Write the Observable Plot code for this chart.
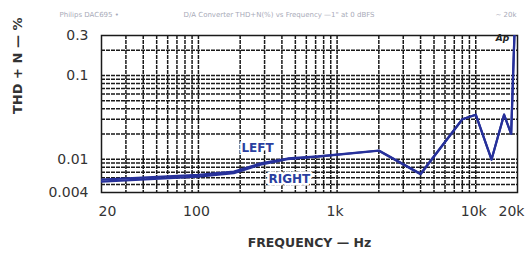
<!DOCTYPE html>
<html>
<head>
<meta charset="utf-8">
<script src="https://cdn.jsdelivr.net/npm/d3@7"></script>
<script src="https://cdn.jsdelivr.net/npm/@observablehq/plot@0.6"></script>
<style>
  html, body { margin: 0; padding: 0; background: #fff; }
  #chart { position: relative; width: 527px; height: 258px; }
  #chart svg { position: absolute; left: 0; top: 0; }
</style>
</head>
<body>
<div id="chart"></div>
<script>
// ---- data ----
const freqs = [20, 100, 180, 280, 440, 730, 2000, 4000, 8000, 10000, 13000, 16000, 18000, 19000];
const leftTHD  = [0.0057, 0.0065, 0.0071, 0.0089, 0.0102, 0.0108, 0.0127, 0.0067, 0.030, 0.034, 0.0099, 0.034, 0.020, 0.30];
const rightTHD = [0.0054, 0.0062, 0.0068, 0.0086, 0.0100, 0.0107, 0.0126, 0.0066, 0.030, 0.034, 0.0099, 0.034, 0.020, 0.30];

const xTicks = [20, 100, 1000, 10000, 20000];
const xTickLabels = ["20", "100", "1k", "10k", "20k"];
const yTicks = [0.3, 0.1, 0.01, 0.004];
const yTickLabels = ["0.3", "0.1", "0.01", "0.004"];

const xGrid = [30,40,50,60,70,80,90,100,200,300,400,500,600,700,800,900,1000,2000,3000,4000,5000,6000,7000,8000,9000,10000];
const yGrid = [0.2,0.1,0.09,0.08,0.07,0.06,0.05,0.04,0.03,0.02,0.01,0.009,0.008,0.007,0.006,0.005];

const seriesNames = ["LEFT", "RIGHT"];
const labelFreq = [267, 453];
const labelTHD = [0.0134, 0.0057];

const titleParts = ["Philips DAC695 •", "D/A Converter THD+N(%) vs Frequency —1\" at 0 dBFS", "~ 20k"];

const rows = [];
freqs.forEach((f, i) => {
  rows.push({f, v: leftTHD[i], s: "LEFT"});
  rows.push({f, v: rightTHD[i], s: "RIGHT"});
});
const labels = seriesNames.map((s, i) => ({s, f: labelFreq[i], v: labelTHD[i]}));
const xTickRows = xTicks.map((t, i) => ({t, label: xTickLabels[i]}));
const yTickRows = yTicks.map((t, i) => ({t, label: yTickLabels[i]}));
const n = xTickRows.length;

const font = "'DejaVu Sans', sans-serif";
const blue = "#26309a";
const gridStyle = {stroke: "#1a1a1a", strokeWidth: 1.5, strokeDasharray: "4,1"};
const tickStyle = {frameAnchor: "bottom", dy: 23, text: "label", fontSize: 14, fill: "#333"};

const plot = Plot.plot({
  width: 527,
  height: 258,
  marginLeft: 101,
  marginRight: 10,
  marginTop: 35,
  marginBottom: 66,
  style: {fontFamily: font, background: "#fff"},
  x: {type: "log", domain: [20, 20000], axis: null},
  y: {type: "log", domain: [0.004, 0.3], axis: null},
  marks: [
    Plot.ruleX(xGrid, {x: d => d, ...gridStyle}),
    Plot.ruleY(yGrid, {y: d => d, ...gridStyle}),
    Plot.frame({stroke: "#1a1a1a", strokeWidth: 1.5}),
    Plot.line(rows, {x: "f", y: "v", z: "s", stroke: blue, strokeWidth: 2.2, clip: true}),
    Plot.text(labels, {x: "f", y: "v", text: "s", fill: "#2a3fa0", stroke: "white", strokeWidth: 5,
      fontSize: 12, fontWeight: "bold", fontFamily: font, style: "letter-spacing:1px"}),
    Plot.text(["Ap"], {x: [15600], y: [0.28], text: d => d, fontSize: 9, fontWeight: "bold", fontStyle: "italic", fill: "#222"}),
    Plot.text(xTickRows.slice(0, 1), {x: "t", ...tickStyle, dx: 6}),
    Plot.text(xTickRows.slice(1, n - 1), {x: "t", ...tickStyle, dx: -2}),
    Plot.text(xTickRows.slice(n - 1), {x: "t", ...tickStyle, dx: -6}),
    Plot.text(yTickRows, {y: "t", frameAnchor: "left", dx: -13, textAnchor: "end", text: "label", fontSize: 14, fill: "#333"}),
    Plot.text(["FREQUENCY — Hz"], {frameAnchor: "bottom", dy: 54, text: d => d, fontSize: 12.5, fontWeight: "bold",
      fill: "#333", style: "letter-spacing:1.5px"}),
    Plot.text(["THD + N — %"], {frameAnchor: "left", dx: -84, rotate: -90, text: d => d, fontSize: 13, fontWeight: "bold",
      fill: "#333", style: "letter-spacing:1.5px"}),
    Plot.text([titleParts[0]], {frameAnchor: "top-left", dx: -42, dy: -23, text: d => d, fontSize: 7, fill: "#a8aab8", textAnchor: "start"}),
    Plot.text([titleParts[1]], {frameAnchor: "top-left", dx: 82, dy: -23, text: d => d, fontSize: 7, fill: "#a8aab8", textAnchor: "start"}),
    Plot.text([titleParts[2]], {frameAnchor: "top-right", dx: -22, dy: -23, text: d => d, fontSize: 7, fill: "#a8aab8", textAnchor: "start"})
  ]
});
document.getElementById("chart").appendChild(plot);
</script>
</body>
</html>
